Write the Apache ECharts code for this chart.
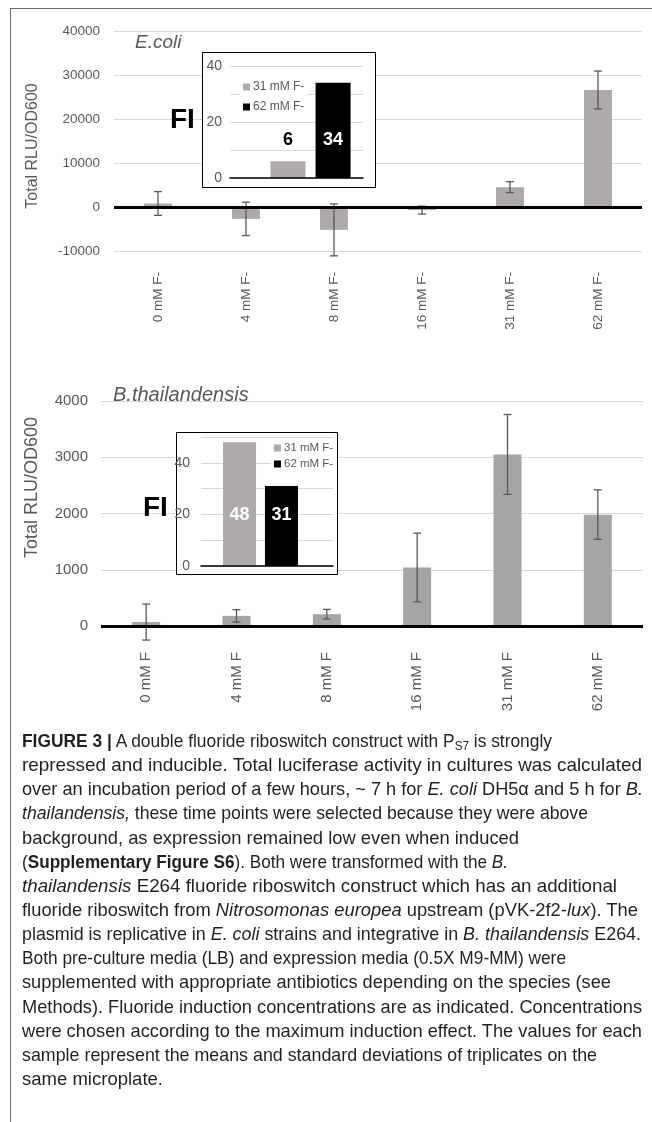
<!DOCTYPE html>
<html>
<head>
<meta charset="utf-8">
<script src="https://cdn.jsdelivr.net/npm/echarts@6/dist/echarts.min.js"></script>
<style>
  html, body { margin:0; padding:0; background:#fff; }
  body { width:652px; height:1122px; position:relative; overflow:hidden; }
  #chart { position:absolute; left:0; top:0; width:652px; height:1122px; }
  #frameTop { position:absolute; left:10px; top:8px; width:642px; height:0; border-top:1px solid #6b6b6b; }
  #frameLeft { position:absolute; left:10px; top:8px; width:0; height:1114px; border-left:1px solid #6b6b6b; }
  #cap { position:absolute; left:22px; top:729px; width:630px;
         font-family:'Liberation Sans', Arial, sans-serif;
         font-size:18.6px; color:#231f20; }
  #cap .ln { display:block; width:max-content; white-space:nowrap; height:24.15px; line-height:24.15px;
             transform-origin:0 50%; }
  #cap sub { font-size:12.5px; vertical-align:-3px; line-height:0; }
</style>
</head>
<body>
<div id="chart"></div>
<div id="frameTop"></div>
<div id="frameLeft"></div>
<div id="cap">
<div class="ln" data-end="552"><b>FIGURE 3 |</b> A double fluoride riboswitch construct with P<sub>S7</sub> is strongly</div>
<div class="ln" data-end="642">repressed and inducible. Total luciferase activity in cultures was calculated</div>
<div class="ln" data-end="643">over an incubation period of a few hours, ~ 7 h for <i>E. coli</i> DH5α and 5 h for <i>B.</i></div>
<div class="ln" data-end="588"><i>thailandensis,</i> these time points were selected because they were above</div>
<div class="ln" data-end="519">background, as expression remained low even when induced</div>
<div class="ln" data-end="508">(<b>Supplementary Figure S6</b>). Both were transformed with the <i>B.</i></div>
<div class="ln" data-end="617"><i>thailandensis</i> E264 fluoride riboswitch construct which has an additional</div>
<div class="ln" data-end="638">fluoride riboswitch from <i>Nitrosomonas europea</i> upstream (pVK-2f2-<i>lux</i>). The</div>
<div class="ln" data-end="641">plasmid is replicative in <i>E. coli</i> strains and integrative in <i>B. thailandensis</i> E264.</div>
<div class="ln" data-end="566">Both pre-culture media (LB) and expression media (0.5X M9-MM) were</div>
<div class="ln" data-end="611">supplemented with appropriate antibiotics depending on the species (see</div>
<div class="ln" data-end="642">Methods). Fluoride induction concentrations are as indicated. Concentrations</div>
<div class="ln" data-end="642">were chosen according to the maximum induction effect. The values for each</div>
<div class="ln" data-end="597">sample represent the means and standard deviations of triplicates on the</div>
<div class="ln" data-end="163">same microplate.</div>
</div>
<script>
// ---- data ----
const ecoliCats = ['0 mM F-', '4 mM F-', '8 mM F-', '16 mM F-', '31 mM F-', '62 mM F-'];
const ecoliMeans = [800, -2700, -5200, -700, 4500, 26600];
const ecoliSD = [2700, 3800, 5900, 900, 1250, 4300];

const bthCats = ['0 mM F', '4 mM F', '8 mM F', '16 mM F', '31 mM F', '62 mM F'];
const bthMeans = [70, 180, 210, 1040, 3050, 1980];
const bthSD = [320, 110, 85, 610, 710, 440];

const insetNames = ['31 mM F-', '62 mM F-'];
const ecoliFI = [6, 34];
const bthFI = [48, 31];

// ---- caption line fitting (layout only) ----
function fitCaption() {
  const capLeft = 22;
  document.querySelectorAll('#cap .ln').forEach(el => {
    el.style.transform = 'none';
    const w = el.getBoundingClientRect().width;
    const target = parseFloat(el.dataset.end) - capLeft;
    if (w > 0) el.style.transform = 'scaleX(' + (target / w) + ')';
  });
}
fitCaption();
if (document.fonts && document.fonts.ready) document.fonts.ready.then(fitCaption);

// ---- styles ----
const FONT = "'Liberation Sans', Arial, sans-serif";
const TXT = '#595959';
const GRIDC = '#d9d9d9';
const BAR_TOP = '#aeaaaa';
const BAR_BOT = '#a5a5a5';
const INSET_GRAY = '#aeaaaa';
const H = 1122;

const chart = echarts.init(document.getElementById('chart'), null, { renderer: 'canvas' });

function errRender(params, api) {
  const x = api.value(0);
  const lo = api.value(1), hi = api.value(2);
  const p1 = api.coord([x, hi]);
  const p2 = api.coord([x, lo]);
  const w = 4;
  const st = { stroke: '#595959', lineWidth: 1.3 };
  return {
    type: 'group',
    children: [
      { type: 'line', shape: { x1: p1[0], y1: p1[1], x2: p2[0], y2: p2[1] }, style: st },
      { type: 'line', shape: { x1: p1[0] - w, y1: p1[1], x2: p1[0] + w, y2: p1[1] }, style: st },
      { type: 'line', shape: { x1: p2[0] - w, y1: p2[1], x2: p2[0] + w, y2: p2[1] }, style: st }
    ]
  };
}

const zeroLine = {
  silent: true, symbol: 'none', label: { show: false },
  lineStyle: { color: '#000', width: 3, type: 'solid' },
  data: [{ yAxis: 0 }]
};

function insetFrameY(maxV, gi, margin) {
  return {
    type: 'value', gridIndex: gi, min: 0, max: maxV, interval: 10, z: 3,
    axisLine: { show: false }, axisTick: { show: false },
    splitLine: { lineStyle: { color: GRIDC, width: 1 } },
    axisLabel: { color: TXT, fontSize: 14, fontFamily: FONT, margin: margin,
      formatter: v => (v % 20 === 0 ? String(v) : '') }
  };
}
function insetFrameX(gi) {
  return {
    type: 'category', gridIndex: gi, data: [''], z: 6,
    axisLine: { lineStyle: { color: '#000', width: 1.5 } },
    axisTick: { show: false }, axisLabel: { show: false }
  };
}
function insetBarY(maxV, gi) {
  return { type: 'value', gridIndex: gi, min: 0, max: maxV, show: false, splitLine: { show: false } };
}
function insetBarX(gi) {
  return { type: 'category', gridIndex: gi, data: ['FI'], show: false };
}

const option = {
  animation: false,
  textStyle: { fontFamily: FONT },
  grid: [
    { left: 114, right: 10, top: 31, bottom: H - 251 },
    { left: 101, right: 9, top: 401, bottom: H - 626 },
    { left: 230, right: 652 - 363, top: 66, bottom: H - 178 },
    { left: 201, right: 652 - 333, top: 437, bottom: H - 566 },
    { left: 258, right: 652 - 363, top: 66, bottom: H - 178 },
    { left: 201, right: 652 - 320, top: 437, bottom: H - 566 }
  ],
  xAxis: [
    { type: 'category', gridIndex: 0, data: ecoliCats,
      axisLine: { show: false, onZero: false }, axisTick: { show: false },
      axisLabel: { rotate: 90, color: TXT, fontSize: 13.5, fontFamily: FONT, margin: 21 } },
    { type: 'category', gridIndex: 1, data: bthCats,
      axisLine: { show: false, onZero: false }, axisTick: { show: false },
      axisLabel: { rotate: 90, color: TXT, fontSize: 15, fontFamily: FONT, margin: 26 } },
    insetFrameX(2),
    insetFrameX(3),
    insetBarX(4),
    insetBarX(5)
  ],
  yAxis: [
    { type: 'value', gridIndex: 0, min: -10000, max: 40000, interval: 10000,
      axisLine: { show: false }, axisTick: { show: false },
      splitLine: { lineStyle: { color: GRIDC, width: 1 } },
      axisLabel: { color: TXT, fontSize: 13.5, fontFamily: FONT, margin: 14, formatter: v => String(v) },
      name: 'Total RLU/OD600', nameLocation: 'middle', nameGap: 73,
      nameTextStyle: { color: TXT, fontSize: 16, fontFamily: FONT, padding: [0, 10, 0, 0] } },
    { type: 'value', gridIndex: 1, min: 0, max: 4000, interval: 1000,
      axisLine: { show: false }, axisTick: { show: false },
      splitLine: { lineStyle: { color: GRIDC, width: 1 } },
      axisLabel: { color: TXT, fontSize: 15, fontFamily: FONT, margin: 13, formatter: v => String(v) },
      name: 'Total RLU/OD600', nameLocation: 'middle', nameGap: 60,
      nameTextStyle: { color: TXT, fontSize: 18, fontFamily: FONT, padding: [0, 0, 0, 52] } },
    insetFrameY(40, 2, 8),
    insetFrameY(50, 3, 11),
    insetBarY(40, 4),
    insetBarY(50, 5)
  ],
  legend: [
    { data: insetNames, orient: 'vertical', left: 240, top: 79, z: 7, padding: [2, 3, 2, 3],
      backgroundColor: '#fff',
      itemWidth: 7, itemHeight: 7, itemGap: 8, icon: 'rect', selectedMode: false,
      textStyle: { color: TXT, fontSize: 12, fontFamily: FONT, padding: [0, 0, 0, -2] } },
    { data: insetNames, orient: 'vertical', left: 271, top: 440, z: 7, padding: [2, 3, 2, 3],
      backgroundColor: '#fff',
      itemWidth: 7, itemHeight: 7, itemGap: 4, icon: 'rect', selectedMode: false,
      textStyle: { color: TXT, fontSize: 11.5, fontFamily: FONT, padding: [0, 0, 0, -2] } }
  ],
  graphic: [
    { type: 'rect', z: 1, shape: { x: 202.5, y: 52.5, width: 173, height: 135 },
      style: { fill: '#fff', stroke: '#000', lineWidth: 1 } },
    { type: 'rect', z: 1, shape: { x: 176.5, y: 432.5, width: 161, height: 142 },
      style: { fill: '#fff', stroke: '#000', lineWidth: 1 } },
    { type: 'text', z: 10, x: 170, y: 120,
      style: { text: 'FI', fill: '#000', font: "bold 28px 'Liberation Sans', Arial, sans-serif", textVerticalAlign: 'middle' } },
    { type: 'text', z: 10, x: 143, y: 508,
      style: { text: 'FI', fill: '#000', font: "bold 28px 'Liberation Sans', Arial, sans-serif", textVerticalAlign: 'middle' } },
    { type: 'text', z: 10, x: 135, y: 43,
      style: { text: 'E.coli', fill: TXT, font: "italic 19px 'Liberation Sans', Arial, sans-serif", textVerticalAlign: 'middle' } },
    { type: 'text', z: 10, x: 113, y: 395,
      style: { text: 'B.thailandensis', fill: TXT, font: "italic 20px 'Liberation Sans', Arial, sans-serif", textVerticalAlign: 'middle' } }
  ],
  series: [
    { name: 'E.coli', type: 'bar', xAxisIndex: 0, yAxisIndex: 0, data: ecoliMeans,
      barWidth: 28, itemStyle: { color: BAR_TOP }, markLine: zeroLine, z: 2 },
    { name: 'E.coli SD', type: 'custom', xAxisIndex: 0, yAxisIndex: 0, z: 3,
      renderItem: errRender,
      data: ecoliMeans.map((m, i) => [i, m - ecoliSD[i], m + ecoliSD[i]]) },
    { name: 'B.thailandensis', type: 'bar', xAxisIndex: 1, yAxisIndex: 1, data: bthMeans,
      barWidth: 28, itemStyle: { color: BAR_BOT }, markLine: zeroLine, z: 2 },
    { name: 'B.thailandensis SD', type: 'custom', xAxisIndex: 1, yAxisIndex: 1, z: 3,
      renderItem: errRender,
      data: bthMeans.map((m, i) => [i, m - bthSD[i], m + bthSD[i]]) },

    { name: insetNames[0], type: 'bar', xAxisIndex: 4, yAxisIndex: 4, z: 5,
      data: [ecoliFI[0]], barWidth: 35, barGap: '29%', itemStyle: { color: INSET_GRAY },
      label: { show: true, position: 'top', distance: 12, color: '#000', fontWeight: 'bold', fontSize: 18, fontFamily: FONT } },
    { name: insetNames[1], type: 'bar', xAxisIndex: 4, yAxisIndex: 4, z: 5,
      data: [ecoliFI[1]], barWidth: 35, barGap: '29%', itemStyle: { color: '#000' },
      label: { show: true, position: 'insideBottom', distance: 29, color: '#fff', fontWeight: 'bold', fontSize: 18, fontFamily: FONT } },

    { name: insetNames[0], type: 'bar', xAxisIndex: 5, yAxisIndex: 5, z: 5,
      data: [bthFI[0]], barWidth: 33, barGap: '27%', itemStyle: { color: INSET_GRAY },
      label: { show: true, position: 'insideBottom', distance: 42, color: '#fff', fontWeight: 'bold', fontSize: 18, fontFamily: FONT } },
    { name: insetNames[1], type: 'bar', xAxisIndex: 5, yAxisIndex: 5, z: 5,
      data: [bthFI[1]], barWidth: 33, barGap: '27%', itemStyle: { color: '#000' },
      label: { show: true, position: 'insideBottom', distance: 42, color: '#fff', fontWeight: 'bold', fontSize: 18, fontFamily: FONT } }
  ]
};
chart.setOption(option);
</script>
</body>
</html>
